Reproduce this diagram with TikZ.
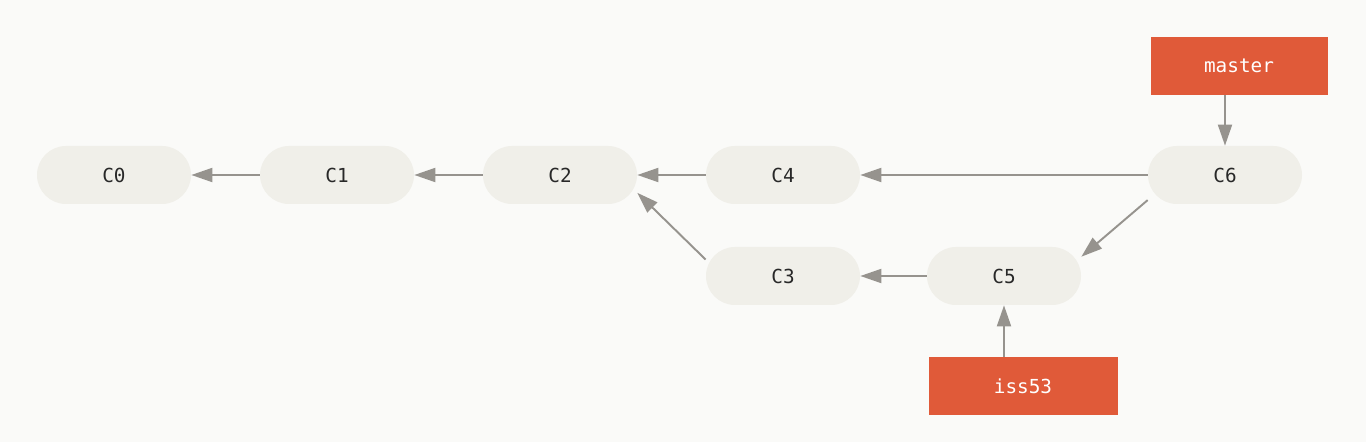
\documentclass[tikz,border=0pt]{standalone}
\usepackage{fontspec}
\setmonofont{DejaVu Sans Mono}
\usepackage{xcolor}
\definecolor{gitbg}{RGB}{250,250,248}
\definecolor{gitnode}{RGB}{240,239,233}
\definecolor{gitline}{RGB}{150,147,142}
\definecolor{gitred}{RGB}{224,90,57}
\definecolor{gittext}{RGB}{40,40,40}
\usetikzlibrary{arrows.meta,positioning}

\begin{document}
\begin{tikzpicture}[
  commit/.style={fill=gitnode,rounded corners=0.58cm,minimum width=3.08cm,minimum height=1.16cm,
    font=\ttfamily\fontsize{11}{13}\selectfont,text=gittext,inner sep=0pt},
  branch/.style={fill=gitred,minimum height=1.16cm,
    font=\ttfamily\fontsize{11}{13}\selectfont,text=white,inner sep=0pt},
  arr/.style={-{Triangle[length=0.42cm,width=0.28cm]},gitline,line width=1.1pt}
]
  % background
  \fill[gitbg] (0,0) rectangle (27.32,-8.84);

  % Commits
  \node[commit] (c0) at (2.28,-3.50) {C0};
  \node[commit] (c1) at (6.74,-3.50) {C1};
  \node[commit] (c2) at (11.20,-3.50) {C2};
  \node[commit] (c4) at (15.66,-3.50) {C4};
  \node[commit] (c6) at (24.50,-3.50) {C6};
  \node[commit] (c3) at (15.66,-5.52) {C3};
  \node[commit] (c5) at (20.08,-5.52) {C5};

  % Branches
  \node[branch,minimum width=3.54cm] (master) at (24.78,-1.32) {master};
  \node[branch,minimum width=3.78cm] (iss53) at (20.46,-7.72) {iss53};

  \draw[arr] (c1) -- (c0);
  \draw[arr] (c2) -- (c1);
  \draw[arr] (c4) -- (c2);
  \draw[arr] (c6) -- (c4);
  \draw[arr] (c3.168) -- (c2.347);
  \draw[arr] (c5) -- (c3);
  \draw[arr] (c6.198) -- (c5.14);
  \draw[arr] (master.south -| c6.north) -- (c6.north);
  \draw[arr] (iss53.north -| c5.south) -- (c5.south);
\end{tikzpicture}
\end{document}
